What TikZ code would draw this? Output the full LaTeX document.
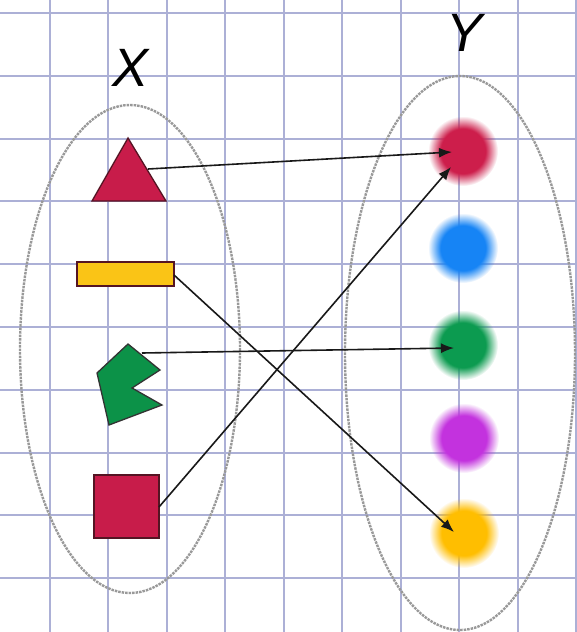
\documentclass[tikz,border=0pt]{standalone}
\usepackage{fontspec}
\newfontfamily\lblfont{Liberation Sans}
\usetikzlibrary{arrows.meta,fadings}
\definecolor{gridc}{RGB}{172,176,214}
\definecolor{crim}{RGB}{200,28,74}
\definecolor{crimedge}{RGB}{85,20,35}
\definecolor{goldr}{RGB}{250,196,22}
\definecolor{greens}{RGB}{12,146,72}
\definecolor{dotred}{RGB}{205,30,75}
\definecolor{dotblue}{RGB}{22,132,245}
\definecolor{dotgreen}{RGB}{12,155,80}
\definecolor{dotpurple}{RGB}{195,50,222}
\definecolor{dotyellow}{RGB}{255,190,0}
\pgfdeclareradialshading{softdotshade}{\pgfpointorigin}{color(0pt)=(pgftransparent!0); color(16pt)=(pgftransparent!0); color(25pt)=(pgftransparent!100); color(50pt)=(pgftransparent!100)}
\pgfdeclarefading{softdot}{\pgfuseshading{softdotshade}}
\tikzset{
  gridline/.style={gridc, line width=2pt},
  setoval/.style={gray!80, line width=2.4pt, dash pattern=on 2.5pt off 1pt},
  shapefill/.style={draw=crimedge, line width=1.3pt, line join=miter},
  fuzzydot/.style={fill=#1, path fading=softdot},
  maparrow/.style={black!90, line width=1.6pt, -{Latex[length=13pt,width=10pt]}},
  setlabel/.style={font=\lblfont\itshape\fontsize{54}{54}\selectfont, inner sep=0pt}
}
\begin{document}
\begin{tikzpicture}[x=1pt,y=-1pt]
\useasboundingbox[fill=white] (0,0) rectangle (576,632);
% grid
\foreach \k in {-1,...,9} \draw[gridline] ({49.5+58.5*\k},0) -- ({49.5+58.5*\k},632);
\foreach \k in {0,...,9} \draw[gridline] (0,{13+62.8*\k}) -- (576,{13+62.8*\k});
% sets
\draw[setoval] (130,349) ellipse [x radius=110, y radius=244];
\draw[setoval] (460,353) ellipse [x radius=115, y radius=277];
\node[setlabel] (lx) at (131,68) {X};
\node[setlabel] (ly) at (465,33) {Y};
% left shapes
\filldraw[shapefill, fill=crim] (128,138) -- (166,201) -- (92,201) -- cycle;
\filldraw[shapefill, fill=goldr] (77,262) rectangle (174,286);
\filldraw[shapefill, draw=black!80, fill=greens] (128,344) -- (160,370) -- (132,388) -- (162,405) -- (109,425) -- (97,373) -- cycle;
\filldraw[shapefill, fill=crim] (94,475) rectangle (159,538);
% right dots
\fill[fuzzydot=dotred] (463,151) circle (35);
\fill[fuzzydot=dotblue] (463,248) circle (35);
\fill[fuzzydot=dotgreen] (463,345) circle (35);
\fill[fuzzydot=dotpurple] (464,438) circle (35);
\fill[fuzzydot=dotyellow] (464,533) circle (35);
% arrow anchors
\coordinate (tri) at (148,169);
\coordinate (rect) at (174,275);
\coordinate (pent) at (142,353);
\coordinate (sq) at (159,507);
\coordinate (redA) at (452,152);
\coordinate (redB) at (451,167);
\coordinate (grn) at (454,348);
\coordinate (yel) at (454,532);
% arrows
\draw[maparrow] (tri) -- (redA);
\draw[maparrow] (sq) -- (redB);
\draw[maparrow] (rect) -- (yel);
\draw[maparrow] (pent) -- (grn);
\end{tikzpicture}
\end{document}
